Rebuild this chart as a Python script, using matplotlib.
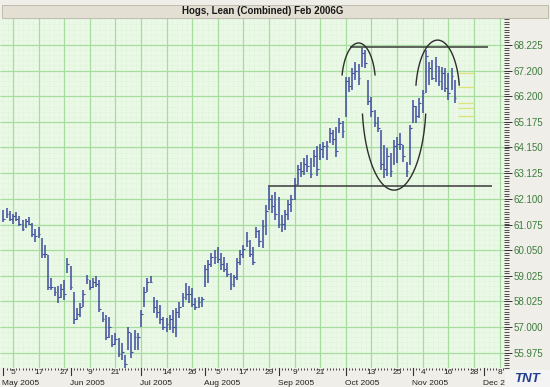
import numpy as np
import pandas as pd
import matplotlib
matplotlib.use('Agg')
import matplotlib.pyplot as plt
import matplotlib.transforms as mtransforms
from matplotlib.patches import Rectangle

plt.rcParams['font.family'] = ['Liberation Sans', 'DejaVu Sans']

# trading days (weekdays minus exchange holidays)
holidays = ['2005-05-30', '2005-07-04', '2005-09-05']
dates = pd.bdate_range('2005-05-02', '2005-12-09', freq='C', holidays=holidays)

# daily bars
highs = [61.65, 61.73, 61.61, 61.49, 61.57, 61.41, 61.25, 61.29, 61.37, 61.13,
         60.89, 60.97, 60.54, 60.26, 59.86, 58.94, 58.58, 58.62, 58.70, 58.86,
         59.74, 59.42, 58.39, 57.75, 57.95, 58.46, 59.06, 58.86, 58.94, 59.02,
         58.86, 57.59, 57.47, 57.39, 56.67, 56.75, 56.55, 56.35, 55.87, 56.99,
         56.75, 56.87, 56.75, 57.67, 58.58, 58.94, 59.02, 58.19, 58.07, 57.87,
         57.39, 57.35, 57.47, 57.67, 57.75, 57.99, 58.35, 58.74, 58.62, 58.54,
         58.15, 58.19, 58.19, 59.46, 59.66, 59.94, 60.06, 60.18, 59.94, 59.78,
         59.54, 59.14, 59.06, 59.74, 60.06, 60.26, 60.78, 60.46, 60.18, 60.97,
         60.85, 61.25, 61.85, 62.57, 62.25, 62.37, 62.17, 61.45, 61.65, 62.05,
         62.25, 62.93, 63.44, 63.56, 63.72, 63.84, 63.72, 64.04, 64.20, 64.28,
         64.36, 64.40, 64.92, 64.84, 64.96, 65.32, 65.20, 66.95, 66.95, 67.31,
         67.55, 67.47, 68.11, 68.03, 66.83, 66.15, 65.64, 65.36, 64.84, 64.24,
         64.12, 63.92, 64.44, 64.56, 64.72, 64.24, 63.56, 65.04, 66.03, 65.79,
         66.11, 66.43, 68.03, 67.55, 67.63, 67.75, 67.39, 67.35, 67.31, 67.11,
         67.31, 66.83]
lows = [61.17, 61.33, 61.21, 61.09, 61.21, 61.01, 60.81, 60.93, 61.05, 60.58,
        60.38, 60.54, 59.74, 59.74, 58.46, 58.46, 58.23, 57.95, 58.15, 58.07,
        59.14, 58.46, 57.11, 57.27, 57.39, 57.79, 58.71, 58.46, 58.54, 58.58,
        57.59, 57.19, 56.47, 56.55, 56.19, 56.27, 55.80, 55.68, 55.36, 56.07,
        55.76, 56.07, 56.07, 56.99, 57.79, 58.39, 58.74, 57.55, 57.35, 57.11,
        56.87, 56.79, 56.87, 56.75, 56.59, 57.35, 57.79, 58.07, 57.95, 57.79,
        57.67, 57.75, 57.79, 58.58, 58.74, 59.38, 59.50, 59.54, 59.26, 59.18,
        58.98, 58.46, 58.58, 58.86, 59.46, 59.74, 60.18, 59.78, 59.46, 60.54,
        60.18, 60.14, 60.66, 61.65, 61.53, 61.25, 60.93, 60.78, 60.85, 61.25,
        61.57, 62.05, 62.65, 62.97, 63.05, 63.17, 62.93, 63.36, 63.01, 63.64,
        63.72, 63.64, 64.32, 64.24, 63.76, 64.72, 64.52, 65.36, 66.35, 66.43,
        66.83, 66.63, 67.35, 67.31, 65.84, 65.36, 64.96, 64.76, 63.24, 62.93,
        63.01, 62.97, 63.44, 63.52, 64.04, 63.56, 62.97, 63.44, 65.12, 65.12,
        65.32, 65.52, 66.31, 66.63, 66.83, 66.75, 66.59, 66.43, 66.35, 66.03,
        66.43, 65.91]
closes = [61.3, 61.5, 61.3, 61.4, 61.3, 61.1, 60.9, 61.2, 61.1, 60.7,
          60.6, 60.7, 59.9, 59.9, 58.6, 58.6, 58.4, 58.2, 58.5, 58.3,
          59.5, 58.6, 57.3, 57.5, 57.8, 58.3, 58.9, 58.6, 58.8, 58.7,
          57.7, 57.3, 56.6, 57.0, 56.3, 56.5, 55.9, 56.0, 55.5, 56.8,
          56.0, 56.6, 56.6, 57.5, 58.4, 58.8, 58.8, 57.8, 57.6, 57.3,
          57.0, 57.1, 57.3, 57.0, 57.6, 57.8, 58.2, 58.3, 58.3, 57.9,
          57.8, 58.0, 58.1, 59.3, 59.5, 59.8, 59.8, 59.7, 59.5, 59.3,
          59.1, 58.7, 59.0, 59.6, 59.9, 60.1, 60.4, 59.9, 59.6, 60.8,
          60.4, 61.0, 61.6, 62.1, 61.8, 61.5, 61.1, 61.1, 61.5, 61.9,
          62.1, 62.7, 63.3, 63.2, 63.5, 63.4, 63.1, 63.8, 63.3, 64.1,
          64.2, 64.2, 64.7, 64.5, 64.0, 65.1, 64.8, 66.8, 66.6, 67.1,
          67.2, 66.9, 67.9, 67.5, 66.0, 65.6, 65.1, 64.9, 63.5, 63.3,
          63.8, 63.2, 64.2, 64.3, 64.3, 63.8, 63.2, 64.9, 65.8, 65.4,
          65.9, 66.3, 67.8, 67.3, 66.9, 67.4, 66.8, 67.1, 66.5, 66.3,
          67.0, 66.1]

ytick_labels = ['55.975', '57.000', '58.025', '59.025', '60.050', '61.075', '62.100',
                '63.125', '64.150', '65.175', '66.200', '67.200', '68.225']

# drawn annotations: resistance / support lines and arcs (day index, price)
resistance = 68.16
support = 62.62
side_levels = [67.12, 66.56, 65.91, 65.71, 65.40]

x = np.arange(len(highs))

fig = plt.figure(figsize=(5.5, 3.87), dpi=100, facecolor='#efeee8')
ax = fig.add_axes([0.0, 1 - 368 / 387, 504 / 550, 350 / 387])
ax.set_facecolor('#eaf8e6')

ax.set_xlim(-1.06, 156.4)
ax.set_ylim(55.36, 69.30)

# graph paper grid
grid_idx = np.arange(3, len(dates), 8)
ax.vlines(np.arange(3 - 8, len(dates), 1.6), 55.36, 69.30, color='#d8eed3', lw=0.5, ls=':', zorder=0)
yt = np.array([float(t) for t in ytick_labels])
ystep = (yt[-1] - yt[0]) / 12
ax.hlines(np.arange(yt[0] - 5 * ystep, 69.3, ystep / 5), -1.06, 156.4, color='#d8eed3', lw=0.5, ls=':', zorder=0)
ax.vlines(grid_idx, 55.36, 69.30, color='#a6dc9e', lw=0.9, zorder=1)
ax.hlines(yt, -1.06, 156.4, color='#a6dc9e', lw=0.9, zorder=1)

# price bars
ax.vlines(x, lows, highs, color='#3d4c9e', lw=1.1, zorder=3)
ax.hlines(closes, x, x + 0.55, color='#3d4c9e', lw=0.8, zorder=3)

# trend lines
ax.hlines(resistance, 108.3, 151.4, color='#3a3a3a', lw=1.1, zorder=4)
ax.hlines(support, 82.7, 152.7, color='#3a3a3a', lw=1.1, zorder=4)
ax.hlines(side_levels, 142, 147, color='#dde27a', lw=0.9, zorder=2)

# arcs
t = np.radians(np.linspace(14, 166, 60))
ax.plot(110.97 + 5.3 * np.cos(t), 66.63 + 1.675 * np.sin(t), color='#2e2e2e', lw=1.0, zorder=4)
t = np.radians(np.linspace(10.5, 169.5, 60))
ax.plot(135.66 + 6.875 * np.cos(t), 66.23 + 2.19 * np.sin(t), color='#2e2e2e', lw=1.0, zorder=4)
t = np.radians(np.linspace(189, 351, 80))
ax.plot(122.06 + 10.0 * np.cos(t), 66.03 + 3.585 * np.sin(t), color='#2e2e2e', lw=1.0, zorder=4)

for s in ax.spines.values():
    s.set_visible(False)

# right price axis
ax.yaxis.tick_right()
ax.set_yticks(yt)
ax.set_yticklabels(ytick_labels)
ax.set_yticks(np.arange(yt[0] - 6 * ystep / 10, 69.3, ystep / 10), minor=True)
ax.tick_params(axis='y', which='major', length=6, width=0.7, color='#333333',
               labelsize=7, labelcolor='#3d7d3d', pad=1)
ax.tick_params(axis='y', which='minor', length=3.5, width=0.6, color='#333333')

# date axis
month_start = [i for i in range(len(dates)) if i == 0 or dates[i].month != dates[i - 1].month]
day_labels = ['' if i in month_start else str(dates[i].day) for i in grid_idx]
ax.set_xticks(grid_idx)
ax.set_xticklabels(day_labels)
ax.set_xticks(np.arange(0, len(dates)), minor=True)
ax.tick_params(axis='x', which='major', length=0, labelsize=6, pad=0.6, labelcolor='#222222')
ax.tick_params(axis='x', which='minor', length=1.5, width=0.7, color='#444444')

trans = mtransforms.blended_transform_factory(ax.transData, ax.transAxes)
for i in month_start:
    ax.plot([i, i], [0, -0.02], transform=trans, clip_on=False, color='#333333', lw=0.8)
    ax.text(i - 0.3, -0.0545, dates[i].strftime('%b %Y'), transform=trans, fontsize=6,
            ha='left', va='bottom', color='#222222', clip_on=False)

# title bar
fig.patches.append(Rectangle((0.003, 1 - 17.5 / 387), 0.994, 12.5 / 387, transform=fig.transFigure,
                             facecolor='#e3e0d3', edgecolor='#b8b5a8', lw=0.6, zorder=0))
fig.text(0.477, 1 - 11.2 / 387, 'Hogs, Lean (Combined) Feb 2006G', ha='center', va='center',
         fontsize=7, fontweight='bold', color='#1a1a1a')

# logo
fig.patches.append(Rectangle((505 / 550, 0), 45 / 550, 17 / 387, transform=fig.transFigure,
                             facecolor='#f4f4f4', edgecolor='none', zorder=5))
fig.text(527 / 550, 8 / 387, 'TNT', ha='center', va='center', fontsize=9.5, fontweight='bold',
         fontstyle='italic', color='#23408e', zorder=6)

plt.savefig('out.png', dpi=100, facecolor=fig.get_facecolor())
